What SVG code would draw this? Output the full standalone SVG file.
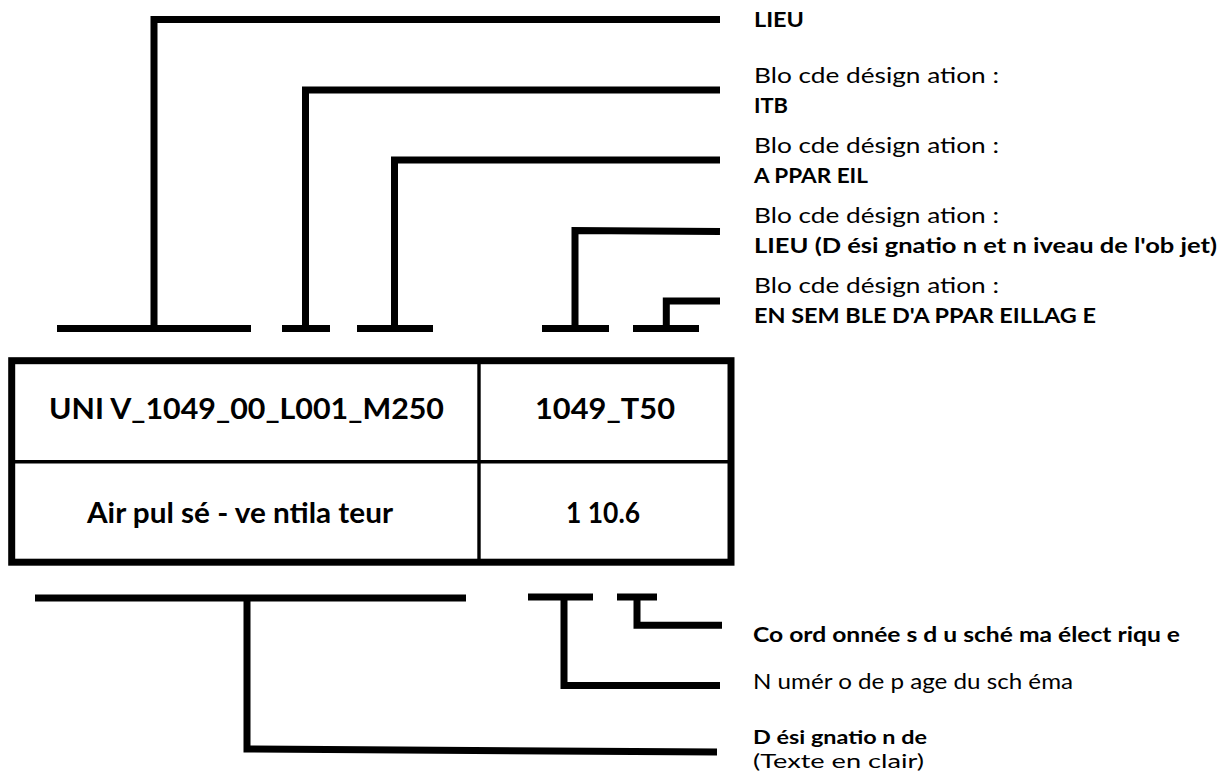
<svg xmlns="http://www.w3.org/2000/svg" width="1228" height="780" viewBox="0 0 1228 780">
<style>
.ln{fill:none;stroke:#000;stroke-width:7;stroke-linejoin:miter;stroke-linecap:butt}
.thin{fill:none;stroke:#000;stroke-width:3.4}
.lbl{font-family:Lato,"Liberation Sans",sans-serif;font-size:21px;fill:#000}
.sm{font-size:19.5px}
.b{font-weight:bold}
.cell{font-family:Lato,"Liberation Sans",sans-serif;font-size:29px;font-weight:bold;fill:#000}
</style>
<rect width="1228" height="780" fill="#fff"/>
<g id="connectors">
<path class="ln" d="M57,328.5 H251 M154,328.5 V19.5 H720"/>
<path class="ln" d="M282,328.5 H330 M305.5,328.5 V90 H720"/>
<path class="ln" d="M357,328.5 H433 M394.5,328.5 V160 H720"/>
<path class="ln" d="M542,328.5 H609 M575,328.5 V230.5 L720,231.5"/>
<path class="ln" d="M633,328.5 H699 M666.3,328.5 V301 H720"/>
<path class="ln" d="M35,598 H466 M247,598 V749 L717,752"/>
<path class="ln" d="M528,597 H593 M564,597 V685.5 H720"/>
<path class="ln" d="M617,597 H657 M637,597 V625.3 H722"/>
</g>
<g id="table">
<rect class="ln" x="11.7" y="360.7" width="719.3" height="201.5"/>
<line class="thin" x1="11.7" y1="461.7" x2="731" y2="461.7"/>
<line class="thin" x1="479" y1="360.7" x2="479" y2="562.2"/>
<text class="cell" x="49" y="419" textLength="395" lengthAdjust="spacingAndGlyphs">UNI V_1049_00_L001_M250</text>
<text class="cell" x="535" y="419" textLength="140" lengthAdjust="spacingAndGlyphs">1049_T50</text>
<text class="cell" x="87" y="522.5" textLength="306" lengthAdjust="spacingAndGlyphs">Air pul sé - ve ntila teur</text>
<text class="cell" x="566" y="522.5" textLength="74" lengthAdjust="spacingAndGlyphs">1 10.6</text>
</g>
<g id="label-lieu">
<text class="lbl b" x="754" y="27.3" textLength="50" lengthAdjust="spacingAndGlyphs">LIEU</text>
</g>
<g id="label-itb">
<text class="lbl" x="754" y="83.3" textLength="245" lengthAdjust="spacingAndGlyphs">Blo cde  désign ation :</text>
<text class="lbl b" x="754" y="113.3" textLength="34" lengthAdjust="spacingAndGlyphs">ITB</text>
</g>
<g id="label-appareil">
<text class="lbl" x="754" y="153.3" textLength="245" lengthAdjust="spacingAndGlyphs">Blo cde  désign ation :</text>
<text class="lbl b" x="754" y="183.3" textLength="114" lengthAdjust="spacingAndGlyphs">A PPAR EIL</text>
</g>
<g id="label-lieu2">
<text class="lbl" x="754" y="223.3" textLength="245" lengthAdjust="spacingAndGlyphs">Blo cde  désign ation :</text>
<text class="lbl b" x="754" y="253.3" textLength="463" lengthAdjust="spacingAndGlyphs">LIEU (D ési gnatio n et n iveau de l'ob jet)</text>
</g>
<g id="label-ensemble">
<text class="lbl" x="754" y="293.3" textLength="245" lengthAdjust="spacingAndGlyphs">Blo cde  désign ation :</text>
<text class="lbl b" x="754" y="323.3" textLength="342" lengthAdjust="spacingAndGlyphs">EN SEM BLE D'A PPAR EILLAG E</text>
</g>
<g id="label-coord">
<text class="lbl b" x="753" y="642" textLength="427" lengthAdjust="spacingAndGlyphs">Co ord onnée s d u sché ma élect riqu e</text>
</g>
<g id="label-page">
<text class="lbl" x="753" y="689" textLength="320" lengthAdjust="spacingAndGlyphs">N umér o de p age du sch éma</text>
</g>
<g id="label-designation">
<text class="lbl sm b" x="753" y="744" textLength="174" lengthAdjust="spacingAndGlyphs">D ési gnatio n de</text>
<text class="lbl sm" x="753" y="767.5" textLength="171" lengthAdjust="spacingAndGlyphs">(Texte en clair)</text>
</g>
</svg>
